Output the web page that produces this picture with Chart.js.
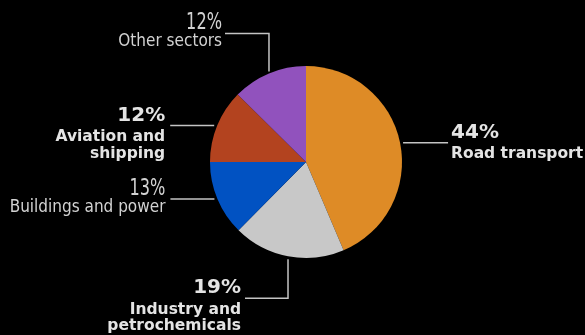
<!DOCTYPE html>
<html>
<head>
<meta charset="utf-8">
<script src="https://cdn.jsdelivr.net/npm/chart.js@4.4.1/dist/chart.umd.min.js"></script>
<style>
  html, body { margin: 0; padding: 0; background: #000; }
  #wrap { width: 585px; height: 335px; }
</style>
</head>
<body>
<div id="wrap"><canvas id="pie" width="585" height="335"></canvas></div>
<script>
// Data (clockwise from 12 o'clock)
const categories = ["Road transport", "Industry and petrochemicals", "Buildings and power", "Aviation and shipping", "Other sectors"];
const shares = [43.6, 18.8, 12.6, 12.4, 12.6];
const pctLabels = ["44%", "19%", "13%", "12%", "12%"];
const nameLines = [["Road transport"], ["Industry and", "petrochemicals"], ["Buildings and power"], ["Aviation and", "shipping"], ["Other sectors"]];
const boldLabel = [true, true, false, true, false];

const sliceColors = ["#de8b26", "#c8c8c8", "#0152c2", "#b3431f", "#9152bd"];
// which way each leader line runs from the slice
const routes = ["right", "down", "left", "left", "up"];

const TEXT = "#e4e4e4";
const TEXT_LIGHT = "#d2d2d2";
const LINE = "#c4c4c4";

const leaderLabels = {
  id: "leaderLabels",
  afterDraw(chart) {
    const ctx = chart.ctx;
    const arcs = chart.getDatasetMeta(0).data;
    ctx.save();
    arcs.forEach(function (arc, i) {
      const mid = (arc.startAngle + arc.endAngle) / 2;
      const r = arc.outerRadius;
      const ex = arc.x + Math.cos(mid) * r;
      const ey = arc.y + Math.sin(mid) * r;
      let pts, lineY, textX, align;
      const dir = routes[i];
      if (dir === "right") {
        const sx = ex + 3, endX = sx + 45;
        pts = [[sx, ey], [endX, ey]];
        lineY = ey; textX = endX + 3; align = "left";
      } else if (dir === "left") {
        const sx = ex - 3, endX = sx - 44;
        pts = [[sx, ey], [endX, ey]];
        lineY = ey; textX = endX - 5; align = "right";
      } else if (dir === "up") {
        const sy = ey - 2, cy = sy - 38, endX = ex - 44;
        pts = [[ex, sy], [ex, cy], [endX, cy]];
        lineY = cy; textX = endX - 3; align = "right";
      } else {
        const sy = ey + 3, cy = sy + 39, endX = ex - 43;
        pts = [[ex, sy], [ex, cy], [endX, cy]];
        lineY = cy; textX = endX - 4; align = "right";
      }

      ctx.strokeStyle = LINE;
      ctx.lineWidth = 1.5;
      ctx.beginPath();
      ctx.moveTo(pts[0][0], pts[0][1]);
      for (let k = 1; k < pts.length; k++) ctx.lineTo(pts[k][0], pts[k][1]);
      ctx.stroke();

      ctx.textAlign = align;
      ctx.textBaseline = "alphabetic";
      if (boldLabel[i]) {
        ctx.fillStyle = TEXT;
        ctx.font = "bold 20px 'DejaVu Sans'";
        ctx.fillText(pctLabels[i], textX, lineY - 5);
        ctx.font = "bold 15.5px 'DejaVu Sans'";
        nameLines[i].forEach(function (t, k) {
          ctx.fillText(t, textX, lineY + 15.5 + k * 16.5);
        });
      } else {
        ctx.fillStyle = TEXT_LIGHT;
        // narrow, tall percentage figures
        ctx.save();
        ctx.translate(textX, lineY - 4);
        ctx.scale(0.78, 1);
        ctx.font = "23px 'DejaVu Sans Condensed'";
        ctx.fillText(pctLabels[i], 0, 0);
        ctx.restore();
        ctx.font = "17px 'DejaVu Sans Condensed'";
        nameLines[i].forEach(function (t, k) {
          ctx.fillText(t, textX, lineY + 13 + k * 16.5);
        });
      }
    });
    ctx.restore();
  },
};

new Chart(document.getElementById("pie").getContext("2d"), {
  type: "pie",
  data: {
    labels: categories,
    datasets: [
      {
        data: shares,
        backgroundColor: sliceColors,
        borderWidth: 0,
      },
    ],
  },
  options: {
    responsive: false,
    animation: false,
    layout: { padding: { top: 66, bottom: 77, left: 200, right: 173 } },
    plugins: {
      legend: { display: false },
      tooltip: { enabled: false },
    },
  },
  plugins: [leaderLabels],
});
</script>
</body>
</html>
